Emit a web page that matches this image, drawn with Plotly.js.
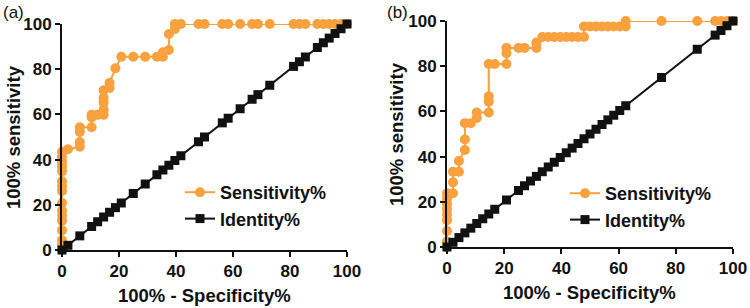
<!DOCTYPE html>
<html>
<head>
<meta charset="utf-8">
<script src="https://cdn.plot.ly/plotly-3.0.1.min.js"></script>
<style>html,body{margin:0;padding:0;background:#fff;}#chart{width:750px;height:308px;}</style>
</head>
<body>
<div id="chart"></div>
<script>
// Panel (a)
var leftRocX = [0,0,0,0,0,0,0,0,0,0,0,0,0,0,0,0,
  2.08, 6.25,6.25,6.25,6.25, 10.4,10.4,10.4, 12.5, 14.6,14.6,14.6,14.6,14.6,
  16.7,16.7, 18.75, 20.8, 25, 29.2, 33.3, 35.4,35.4, 37.5,37.5, 39.6,39.6,
  41.7, 47.9, 50, 56.25, 58.3, 62.5, 66.7, 68.75, 72.9, 81.25, 83.3, 85.4,
  89.6, 91.7, 93.75, 95.8, 97.9, 100];
var leftRocY = [0,2.2,4.3,8.7,13,15.2,17.4,20.8,26.1,28.3,30.4,34.8,37,39.1,41.3,43.5,
  44.6, 45.7,47.8,52.2,54.3, 54.3,58.7,59.8, 59.8, 59.8,62,65.2,67.4,70.7,
  71.7,73.9, 80.4, 85.5, 85.5, 85.5, 85.5, 85.5,87.5, 88.5,95.6, 97.8,100,
  100, 100, 100, 100, 100, 100, 100, 100, 100, 100, 100, 100,
  100, 100, 100, 100, 100, 100];
var leftIdX = [0, 2.08, 6.25, 10.4, 12.5, 14.6, 16.7, 18.75, 20.8, 25, 29.2, 33.3, 35.4, 37.5,
  39.6, 41.7, 47.9, 50, 56.25, 58.3, 62.5, 66.7, 68.75, 72.9, 81.25, 83.3, 85.4, 89.6,
  91.7, 93.75, 95.8, 97.9, 100];
var leftIdY = [0, 2.08, 6.25, 10.4, 12.5, 14.6, 16.7, 18.75, 20.8, 25, 29.2, 33.3, 35.4, 37.5,
  39.6, 41.7, 47.9, 50, 56.25, 58.3, 62.5, 66.7, 68.75, 72.9, 81.25, 83.3, 85.4, 89.6,
  91.7, 93.75, 95.8, 97.9, 100];

// Panel (b)
var rightRocX = [0,0,0,0,0,0,0,0,0, 2.08,2.08,2.08, 4.17,4.17, 6.25,6.25,6.25, 8.33,
  10.4,10.4, 14.6,14.6,14.6,14.6, 16.7, 20.8,20.8,20.8, 25, 27.1, 31.25,31.25,
  33.3, 35.4, 37.5, 39.6, 41.7, 43.75, 45.8, 47.9,47.9,
  50, 52.1, 54.2, 56.25, 58.3, 60.4, 62.5,62.5, 75, 87.5, 93.75, 95.8, 97.9, 100];
var rightRocY = [0,2.4,7.1,11.9,14.3,16.7,19,21.4,23.8, 23.8,28.6,33.3, 33.3,38.1, 42.9,47.6,54.8, 54.8,
  57.1,59.5, 59.5,64.3,66.7,81, 81, 81,85.7,88.1, 88.1, 88.1, 88.1,90.5,
  92.9, 92.9, 92.9, 92.9, 92.9, 92.9, 92.9, 92.9,97.6,
  97.6, 97.6, 97.6, 97.6, 97.6, 97.6, 97.6,100, 100, 100, 100, 100, 100, 100];
var rightIdX = [0, 2.08, 4.17, 6.25, 8.33, 10.4, 12.5, 14.6, 16.7, 20.8, 25, 27.1, 29.2, 31.25,
  33.3, 35.4, 37.5, 39.6, 41.7, 43.75, 45.8, 47.9, 50, 52.1, 54.2, 56.25, 58.3, 60.4, 62.5,
  75, 87.5, 93.75, 95.8, 97.9, 100];
var rightIdY = [0, 2.08, 4.17, 6.25, 8.33, 10.4, 12.5, 14.6, 16.7, 20.8, 25, 27.1, 29.2, 31.25,
  33.3, 35.4, 37.5, 39.6, 41.7, 43.75, 45.8, 47.9, 50, 52.1, 54.2, 56.25, 58.3, 60.4, 62.5,
  75, 87.5, 93.75, 95.8, 97.9, 100];

var tickVals = [0, 20, 40, 60, 80, 100];
var tickText = ['0', '20', '40', '60', '80', '100'];
var seriesNames = ['Sensitivity%', 'Identity%'];
var xTitle = '100% - Specificity%';
var yTitle = '100% sensitivity';
var panelLabels = ['(a)', '(b)'];

var ORANGE = '#F8A13E';
var BLACK = '#111111';
var FONT = 'Liberation Sans, Arial, sans-serif';

function rocTrace(x, y, xa, ya, lg) {
  return {x: x, y: y, xaxis: xa, yaxis: ya, type: 'scatter', mode: 'lines+markers',
    name: seriesNames[0], legend: lg, cliponaxis: false,
    line: {color: ORANGE, width: 2},
    marker: {symbol: 'circle', size: 10, color: ORANGE}};
}
function idTrace(x, y, xa, ya, lg) {
  return {x: x, y: y, xaxis: xa, yaxis: ya, type: 'scatter', mode: 'lines+markers',
    name: seriesNames[1], legend: lg, cliponaxis: false,
    line: {color: BLACK, width: 2},
    marker: {symbol: 'square', size: 9, color: BLACK}};
}

var data = [
  rocTrace(leftRocX, leftRocY, 'x', 'y', 'legend'),
  idTrace(leftIdX, leftIdY, 'x', 'y', 'legend'),
  rocTrace(rightRocX, rightRocY, 'x2', 'y2', 'legend2'),
  idTrace(rightIdX, rightIdY, 'x2', 'y2', 'legend2')
];

function axis(domain, anchor) {
  return {domain: domain, anchor: anchor, range: [0, 100], tickmode: 'array',
    tickvals: tickVals, ticktext: tickText, showgrid: false, zeroline: false,
    showline: true, linecolor: BLACK, linewidth: 2, ticks: 'outside', ticklen: 5,
    tickwidth: 2, tickcolor: BLACK, fixedrange: true,
    tickfont: {family: FONT, size: 17, color: BLACK, weight: 'bold'}};
}

var legendFont = {family: FONT, size: 18, color: BLACK, weight: 'bold'};
var titleFont = {family: FONT, size: 18.5, color: BLACK, weight: 'bold'};

var layout = {
  width: 750, height: 308,
  margin: {l: 0, r: 0, t: 0, b: 0},
  paper_bgcolor: '#ffffff', plot_bgcolor: '#ffffff',
  showlegend: true,
  xaxis: axis([62/750, 347/750], 'y'),
  yaxis: axis([(308-250)/308, (308-24)/308], 'x'),
  xaxis2: axis([447/750, 733/750], 'y2'),
  yaxis2: axis([(308-247)/308, (308-21)/308], 'x2'),
  legend: {x: 180/750, y: (308-174)/308, xanchor: 'left', yanchor: 'top',
    bgcolor: 'rgba(0,0,0,0)', font: legendFont, tracegroupgap: 0},
  legend2: {x: 565/750, y: (308-175)/308, xanchor: 'left', yanchor: 'top',
    bgcolor: 'rgba(0,0,0,0)', font: legendFont, tracegroupgap: 0},
  annotations: [
    {text: xTitle, xref: 'paper', yref: 'paper', x: 204.5/750, y: (308-295)/308,
      xanchor: 'center', yanchor: 'middle', showarrow: false, font: titleFont},
    {text: yTitle, xref: 'paper', yref: 'paper', x: 13/750, y: (308-137)/308,
      xanchor: 'center', yanchor: 'middle', textangle: -90, showarrow: false, font: titleFont},
    {text: xTitle, xref: 'paper', yref: 'paper', x: 589/750, y: (308-292)/308,
      xanchor: 'center', yanchor: 'middle', showarrow: false, font: titleFont},
    {text: yTitle, xref: 'paper', yref: 'paper', x: 396/750, y: (308-134)/308,
      xanchor: 'center', yanchor: 'middle', textangle: -90, showarrow: false, font: titleFont},
    {text: panelLabels[0], xref: 'paper', yref: 'paper', x: 13/750, y: (308-12)/308,
      xanchor: 'center', yanchor: 'middle', showarrow: false,
      font: {family: FONT, size: 17, color: BLACK}},
    {text: panelLabels[1], xref: 'paper', yref: 'paper', x: 397/750, y: (308-12)/308,
      xanchor: 'center', yanchor: 'middle', showarrow: false,
      font: {family: FONT, size: 17, color: BLACK}}
  ]
};

Plotly.newPlot('chart', data, layout, {staticPlot: true, displayModeBar: false});
</script>
</body>
</html>
